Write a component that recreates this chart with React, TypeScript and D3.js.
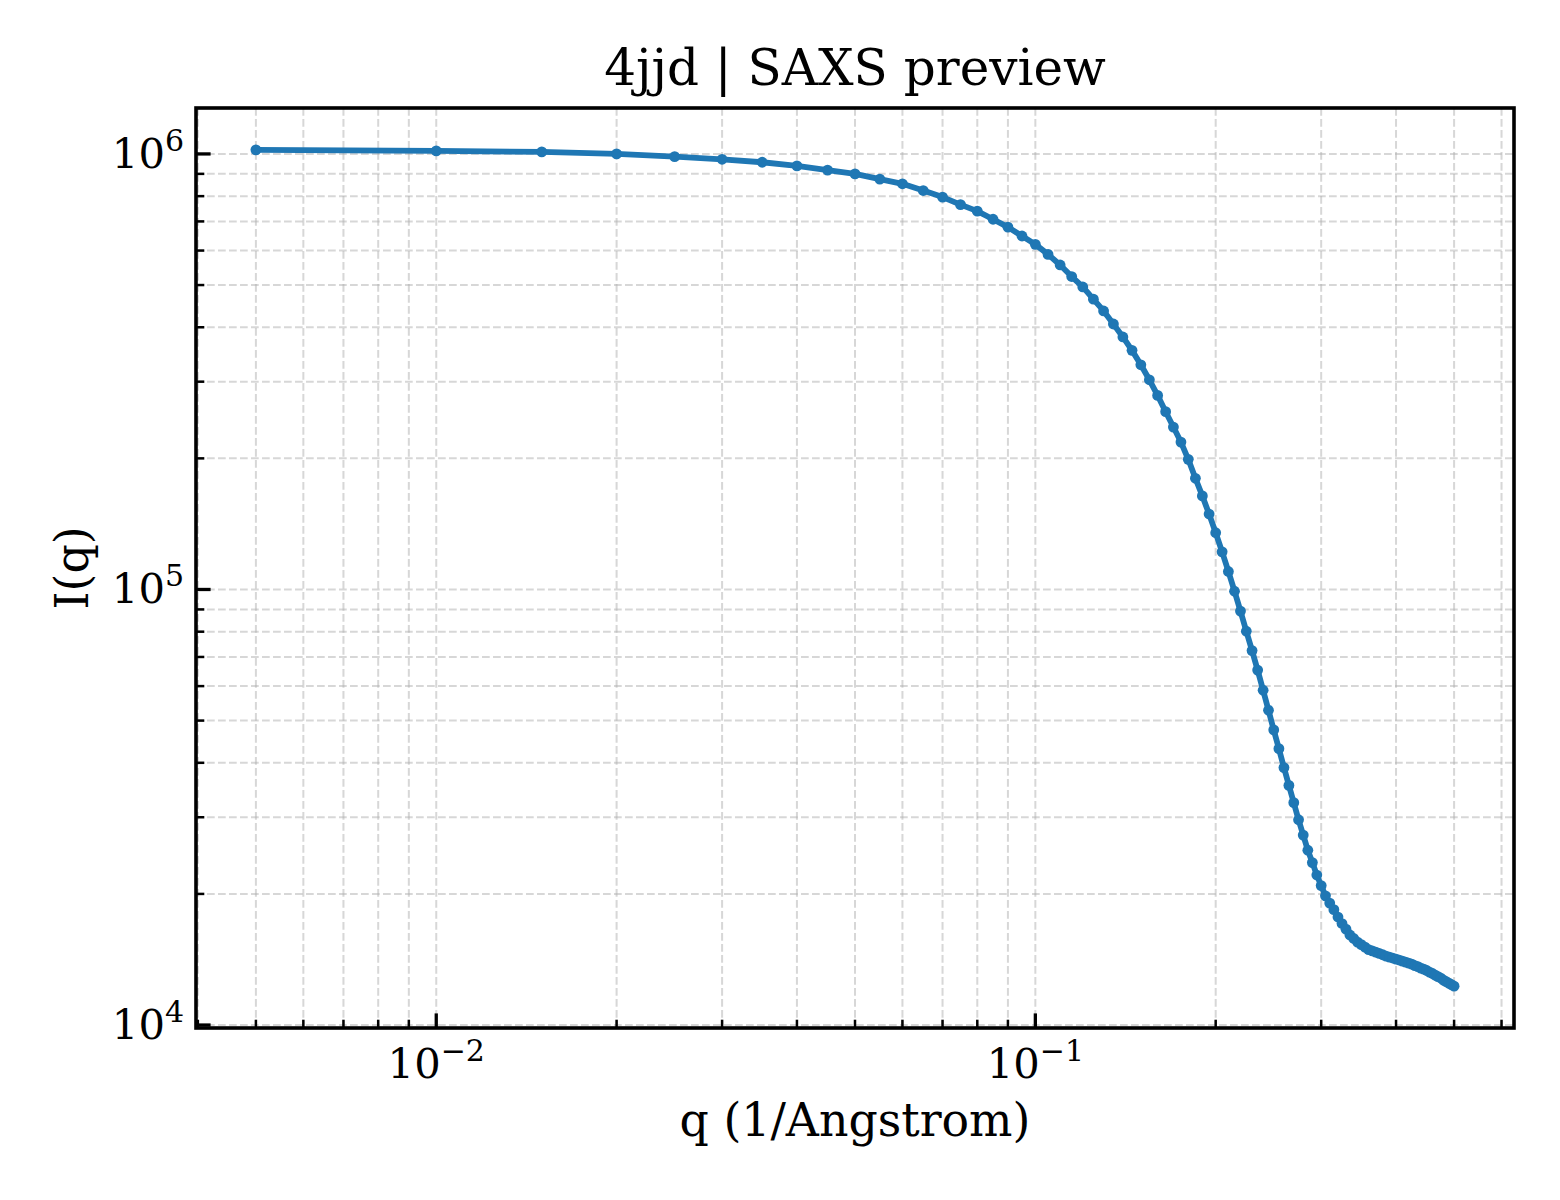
import React, { useEffect, useRef } from 'react';
import * as d3 from 'd3';

// scattering vector q (1/Angstrom)
const Q_VALUES = [
  0.005, 0.01, 0.015, 0.02, 0.025, 0.03, 0.035, 0.04, 0.045, 0.05,
  0.055, 0.06, 0.065, 0.07, 0.075, 0.08, 0.085, 0.09, 0.095, 0.1,
  0.105, 0.11, 0.115, 0.12, 0.125, 0.13, 0.135, 0.14, 0.145, 0.15,
  0.155, 0.16, 0.165, 0.17, 0.175, 0.18, 0.185, 0.19, 0.195, 0.2,
  0.205, 0.21, 0.215, 0.22, 0.225, 0.23, 0.235, 0.24, 0.245, 0.25,
  0.255, 0.26, 0.265, 0.27, 0.275, 0.28, 0.285, 0.29, 0.295, 0.3,
  0.305, 0.31, 0.315, 0.32, 0.325, 0.33, 0.335, 0.34, 0.345, 0.35,
  0.355, 0.36, 0.365, 0.37, 0.375, 0.38, 0.385, 0.39, 0.395, 0.4,
  0.405, 0.41, 0.415, 0.42, 0.425, 0.43, 0.435, 0.44, 0.445, 0.45,
  0.455, 0.46, 0.465, 0.47, 0.475, 0.48, 0.485, 0.49, 0.495, 0.5,
];

// intensity I(q)
const INTENSITY = [
  1022000, 1016000, 1011000, 1000000, 986000, 972000, 957000, 939000, 918000, 900000,
  875000, 854000, 824000, 796000, 765000, 739000, 708000, 679000, 648000, 620000,
  588000, 556000, 523000, 495000, 464000, 436000, 407000, 380000, 354000, 328000,
  303000, 279000, 256000, 236000, 218000, 199000, 180000, 164000, 149000, 135000,
  122000, 110000, 99100, 89200, 80200, 72400, 65300, 58700, 52800, 47600,
  43100, 39000, 35500, 32400, 29600, 27300, 25200, 23600, 22100, 20900,
  19800, 19050, 18400, 17700, 17100, 16600, 16100, 15800, 15500, 15300,
  15100, 14900, 14800, 14700, 14600, 14500, 14400, 14320, 14250, 14170,
  14100, 14020, 13950, 13870, 13800, 13690, 13620, 13510, 13440, 13340,
  13230, 13130, 13020, 12920, 12820, 12680, 12580, 12480, 12380, 12280,
];

const X_MAJOR_TICKS = [0.01, 0.1];
const Y_MAJOR_TICKS = [1e4, 1e5, 1e6];

const TITLE = '4jjd | SAXS preview';
const X_LABEL = 'q (1/Angstrom)';
const Y_LABEL = 'I(q)';

const WIDTH = 1560;
const HEIGHT = 1200;
const FONT = '"DejaVu Serif", "Liberation Serif", serif';

// log-space extent with matplotlib-like 5% margins
function logDomain(values: number[]): [number, number] {
  const lo = Math.log10(d3.min(values)!);
  const hi = Math.log10(d3.max(values)!);
  const m = (hi - lo) * 0.05;
  return [Math.pow(10, lo - m), Math.pow(10, hi + m)];
}

const App: React.FC = () => {
  const svgRef = useRef<SVGSVGElement>(null);

  useEffect(() => {
    if (!svgRef.current) return;
    const svg = d3.select(svgRef.current);
    svg.selectAll('*').remove();

    const margin = { top: 108, right: 46, bottom: 172, left: 196 };
    const left = margin.left;
    const right = WIDTH - margin.right;
    const top = margin.top;
    const bottom = HEIGHT - margin.bottom;

    const x = d3.scaleLog().domain(logDomain(Q_VALUES)).range([left, right]);
    const y = d3.scaleLog().domain(logDomain(INTENSITY)).range([bottom, top]);

    const isMajor = (v: number) => Math.abs(Math.log10(v) - Math.round(Math.log10(v))) < 1e-9;
    const xAll = x.ticks();
    const yAll = y.ticks();
    const xMinor = xAll.filter(v => !isMajor(v));
    const yMinor = yAll.filter(v => !isMajor(v));

    // Grid lines (major + minor)
    const grid = svg.append('g')
      .attr('stroke', '#b0b0b0')
      .attr('stroke-opacity', 0.5)
      .attr('stroke-width', 2)
      .attr('stroke-dasharray', '7.7,3.3');

    grid.selectAll('line.gx')
      .data(xAll)
      .join('line')
      .attr('x1', d => x(d)).attr('x2', d => x(d))
      .attr('y1', top).attr('y2', bottom);

    grid.selectAll('line.gy')
      .data(yAll)
      .join('line')
      .attr('class', 'gy')
      .attr('x1', left).attr('x2', right)
      .attr('y1', d => y(d)).attr('y2', d => y(d));

    // Data
    const pts = Q_VALUES.map((q, i) => [q, INTENSITY[i]] as [number, number]);
    const line = d3.line<[number, number]>()
      .x(d => x(d[0]))
      .y(d => y(d[1]));

    svg.append('path')
      .datum(pts)
      .attr('fill', 'none')
      .attr('stroke', '#1f77b4')
      .attr('stroke-width', 5.8)
      .attr('stroke-linejoin', 'round')
      .attr('stroke-linecap', 'round')
      .attr('d', line);

    svg.append('g')
      .attr('fill', '#1f77b4')
      .selectAll('circle')
      .data(pts)
      .join('circle')
      .attr('cx', d => x(d[0]))
      .attr('cy', d => y(d[1]))
      .attr('r', 5.4);

    // Ticks (inward, left + bottom)
    const ticks = svg.append('g').attr('stroke', '#000').attr('stroke-width', 3.3);
    X_MAJOR_TICKS.forEach(v => {
      ticks.append('line').attr('x1', x(v)).attr('x2', x(v)).attr('y1', bottom).attr('y2', bottom - 14.6);
    });
    xMinor.forEach(v => {
      ticks.append('line').attr('x1', x(v)).attr('x2', x(v)).attr('y1', bottom).attr('y2', bottom - 8.3)
        .attr('stroke-width', 2.5);
    });
    Y_MAJOR_TICKS.forEach(v => {
      ticks.append('line').attr('x1', left).attr('x2', left + 14.6).attr('y1', y(v)).attr('y2', y(v));
    });
    yMinor.forEach(v => {
      ticks.append('line').attr('x1', left).attr('x2', left + 8.3).attr('y1', y(v)).attr('y2', y(v))
        .attr('stroke-width', 2.5);
    });

    // Spines
    svg.append('rect')
      .attr('x', left).attr('y', top)
      .attr('width', right - left).attr('height', bottom - top)
      .attr('fill', 'none')
      .attr('stroke', '#000')
      .attr('stroke-width', 3.6);

    // Tick labels
    const powLabel = (g: d3.Selection<SVGTextElement, unknown, null, undefined>, v: number) => {
      const e = Math.round(Math.log10(v));
      g.append('tspan').text('10');
      g.append('tspan')
        .attr('dy', -17)
        .attr('font-size', 30)
        .text(e < 0 ? `\u2212${-e}` : `${e}`);
    };

    X_MAJOR_TICKS.forEach(v => {
      const t = svg.append('text')
        .attr('x', x(v))
        .attr('y', 1078)
        .attr('text-anchor', 'middle')
        .attr('font-family', FONT)
        .attr('font-size', 41.7)
        .attr('fill', '#000');
      powLabel(t, v);
    });

    Y_MAJOR_TICKS.forEach(v => {
      const t = svg.append('text')
        .attr('x', left - 12)
        .attr('y', y(v) + 14)
        .attr('text-anchor', 'end')
        .attr('font-family', FONT)
        .attr('font-size', 41.7)
        .attr('fill', '#000');
      powLabel(t, v);
    });

    // Title and axis labels
    svg.append('text')
      .attr('x', (left + right) / 2)
      .attr('y', 85)
      .attr('text-anchor', 'middle')
      .attr('font-family', FONT)
      .attr('font-size', 50)
      .attr('fill', '#000')
      .text(TITLE);

    svg.append('text')
      .attr('x', (left + right) / 2)
      .attr('y', 1136)
      .attr('text-anchor', 'middle')
      .attr('font-family', FONT)
      .attr('font-size', 45.8)
      .attr('fill', '#000')
      .text(X_LABEL);

    svg.append('text')
      .attr('transform', `translate(88,${(top + bottom) / 2}) rotate(-90)`)
      .attr('text-anchor', 'middle')
      .attr('font-family', FONT)
      .attr('font-size', 45.8)
      .attr('fill', '#000')
      .text(Y_LABEL);
  }, []);

  return (
    <div style={{ position: 'absolute', left: 0, top: 0, background: '#fff' }}>
      <svg ref={svgRef} width={WIDTH} height={HEIGHT} style={{ display: 'block' }}></svg>
    </div>
  );
};

export default App;
